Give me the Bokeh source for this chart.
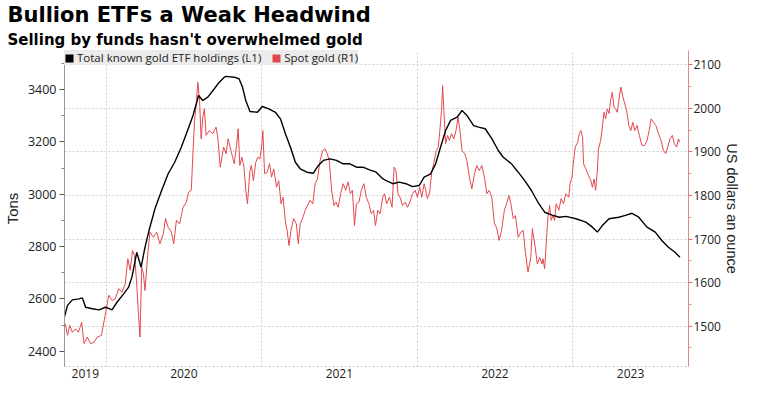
from bokeh.plotting import figure
from bokeh.models import Range1d, LinearAxis, FixedTicker, Legend, LegendItem, Title
from bokeh.embed import file_html
from bokeh.resources import INLINE

# ---------------- data ----------------
etf_year = [
    2019.732, 2019.752, 2019.783, 2019.826, 2019.847, 2019.868, 2019.911, 2019.954, 2019.996, 2020.025,
    2020.038, 2020.070, 2020.113, 2020.145, 2020.166, 2020.183, 2020.197, 2020.225, 2020.250, 2020.276,
    2020.314, 2020.357, 2020.399, 2020.441, 2020.484, 2020.516, 2020.559, 2020.586, 2020.594, 2020.622,
    2020.654, 2020.696, 2020.728, 2020.760, 2020.771, 2020.824, 2020.855, 2020.877, 2020.898, 2020.925,
    2020.973, 2021.004, 2021.046, 2021.089, 2021.121, 2021.153, 2021.185, 2021.217, 2021.248, 2021.291,
    2021.333, 2021.365, 2021.397, 2021.439, 2021.482, 2021.524, 2021.567, 2021.610, 2021.652, 2021.694,
    2021.737, 2021.779, 2021.801, 2021.843, 2021.885, 2021.928, 2021.970, 2022.013, 2022.045, 2022.087,
    2022.119, 2022.151, 2022.183, 2022.215, 2022.257, 2022.289, 2022.320, 2022.363, 2022.395, 2022.438,
    2022.480, 2022.522, 2022.554, 2022.607, 2022.650, 2022.692, 2022.734, 2022.777, 2022.820, 2022.873,
    2022.915, 2022.957, 2023.021, 2023.085, 2023.127, 2023.159, 2023.191, 2023.234, 2023.297, 2023.339,
    2023.382, 2023.425, 2023.478, 2023.531, 2023.573, 2023.616, 2023.658, 2023.690,
]
etf_tons = [
    2530, 2575, 2596, 2600, 2604, 2568, 2562, 2558, 2568, 2562,
    2558, 2587, 2619, 2645, 2683, 2734, 2778, 2721, 2797, 2861,
    2944, 3014, 3078, 3122, 3180, 3231, 3301, 3358, 3377, 3358,
    3371, 3403, 3428, 3447, 3450, 3447, 3441, 3409, 3358, 3316,
    3313, 3335, 3326, 3313, 3288, 3231, 3180, 3122, 3097, 3084,
    3080, 3110, 3129, 3135, 3129, 3116, 3116, 3103, 3103, 3093,
    3084, 3059, 3052, 3040, 3046, 3040, 3029, 3033, 3065, 3078,
    3116, 3180, 3243, 3282, 3294, 3320, 3301, 3262, 3256, 3250,
    3212, 3167, 3141, 3116, 3084, 3052, 3015, 2969, 2931, 2919,
    2912, 2915, 2906, 2893, 2874, 2855, 2880, 2906, 2912, 2919,
    2927, 2912, 2874, 2855, 2823, 2797, 2778, 2759,
]

gold_year = [
    2019.737, 2019.752, 2019.766, 2019.783, 2019.804, 2019.822, 2019.843, 2019.858, 2019.879, 2019.900,
    2019.922, 2019.943, 2019.970, 2019.992, 2020.017, 2020.038, 2020.059, 2020.081, 2020.102, 2020.123,
    2020.140, 2020.155, 2020.170, 2020.183, 2020.197, 2020.208, 2020.218, 2020.229, 2020.240, 2020.250,
    2020.268, 2020.282, 2020.304, 2020.325, 2020.346, 2020.368, 2020.382, 2020.399, 2020.420, 2020.435,
    2020.452, 2020.473, 2020.495, 2020.516, 2020.531, 2020.548, 2020.559, 2020.569, 2020.580, 2020.590,
    2020.601, 2020.611, 2020.622, 2020.632, 2020.643, 2020.664, 2020.686, 2020.707, 2020.718, 2020.734,
    2020.756, 2020.771, 2020.785, 2020.803, 2020.824, 2020.839, 2020.849, 2020.860, 2020.873, 2020.887,
    2020.898, 2020.909, 2020.925, 2020.934, 2020.947, 2020.962, 2020.976, 2020.989, 2021.002, 2021.008,
    2021.019, 2021.036, 2021.051, 2021.064, 2021.078, 2021.096, 2021.110, 2021.125, 2021.138, 2021.153,
    2021.164, 2021.176, 2021.189, 2021.206, 2021.223, 2021.236, 2021.248, 2021.266, 2021.280, 2021.295,
    2021.312, 2021.329, 2021.344, 2021.359, 2021.376, 2021.393, 2021.408, 2021.422, 2021.435, 2021.450,
    2021.465, 2021.478, 2021.492, 2021.508, 2021.524, 2021.541, 2021.556, 2021.571, 2021.584, 2021.597,
    2021.610, 2021.626, 2021.641, 2021.658, 2021.673, 2021.690, 2021.705, 2021.720, 2021.732, 2021.747,
    2021.762, 2021.779, 2021.790, 2021.804, 2021.822, 2021.839, 2021.852, 2021.864, 2021.877, 2021.890,
    2021.906, 2021.924, 2021.938, 2021.954, 2021.970, 2021.987, 2022.002, 2022.017, 2022.030, 2022.045,
    2022.055, 2022.066, 2022.081, 2022.094, 2022.108, 2022.123, 2022.136, 2022.146, 2022.157, 2022.164,
    2022.172, 2022.183, 2022.196, 2022.208, 2022.221, 2022.236, 2022.250, 2022.263, 2022.274, 2022.289,
    2022.306, 2022.320, 2022.336, 2022.352, 2022.369, 2022.384, 2022.399, 2022.416, 2022.433, 2022.448,
    2022.463, 2022.480, 2022.497, 2022.511, 2022.527, 2022.543, 2022.561, 2022.575, 2022.590, 2022.603,
    2022.618, 2022.632, 2022.650, 2022.667, 2022.682, 2022.696, 2022.713, 2022.731, 2022.741, 2022.756,
    2022.773, 2022.788, 2022.803, 2022.809, 2022.820, 2022.830, 2022.841, 2022.852, 2022.862, 2022.873,
    2022.884, 2022.894, 2022.911, 2022.926, 2022.941, 2022.957, 2022.975, 2022.983, 2022.996, 2023.004,
    2023.017, 2023.032, 2023.043, 2023.053, 2023.064, 2023.070, 2023.085, 2023.102, 2023.117, 2023.127,
    2023.138, 2023.148, 2023.159, 2023.166, 2023.180, 2023.191, 2023.202, 2023.212, 2023.223, 2023.234,
    2023.244, 2023.255, 2023.266, 2023.276, 2023.287, 2023.297, 2023.310, 2023.323, 2023.336, 2023.349,
    2023.361, 2023.374, 2023.387, 2023.400, 2023.414, 2023.429, 2023.446, 2023.463, 2023.478, 2023.492,
    2023.505, 2023.520, 2023.535, 2023.552, 2023.569, 2023.584, 2023.599, 2023.611, 2023.626, 2023.641,
    2023.654, 2023.669, 2023.680, 2023.690,
]
gold_usd = [
    1506, 1479, 1502, 1486, 1494, 1486, 1509, 1460, 1475, 1460,
    1463, 1475, 1479, 1521, 1571, 1559, 1563, 1586, 1578, 1597,
    1655, 1628, 1674, 1662, 1597, 1529, 1475, 1635, 1620, 1582,
    1666, 1716, 1704, 1716, 1689, 1712, 1747, 1727, 1716, 1689,
    1743, 1735, 1773, 1785, 1808, 1812, 1903, 1972, 2010, 2060,
    2018, 1930, 1980, 1999, 1938, 1949, 1942, 1957, 1934, 1865,
    1911, 1896, 1930, 1903, 1873, 1915, 1953, 1869, 1888, 1865,
    1812, 1781, 1857, 1869, 1834, 1876, 1888, 1884, 1919, 1949,
    1850, 1853, 1873, 1842, 1861, 1819, 1834, 1781, 1796, 1739,
    1720, 1685, 1720, 1747, 1735, 1689, 1735, 1750, 1766, 1777,
    1789, 1781, 1827, 1838, 1880, 1903, 1907, 1896, 1880, 1812,
    1777, 1785, 1773, 1804, 1827, 1812, 1831, 1804, 1812, 1731,
    1781, 1785, 1812, 1827, 1796, 1781, 1758, 1766, 1731, 1766,
    1758, 1796, 1804, 1781, 1796, 1773, 1865, 1857, 1804, 1796,
    1777, 1785, 1773, 1785, 1804, 1812, 1796, 1819, 1796, 1827,
    1812, 1793, 1808, 1854, 1876, 1903, 1911, 1949, 1995, 2052,
    1995, 1919, 1938, 1926, 1942, 1930, 1949, 1980, 1953, 1903,
    1896, 1880, 1842, 1815, 1850, 1869, 1857, 1869, 1842, 1804,
    1812, 1796, 1735, 1727, 1697, 1720, 1766, 1781, 1800, 1781,
    1747, 1754, 1704, 1716, 1720, 1670, 1624, 1658, 1724, 1689,
    1643, 1658, 1643, 1655, 1632, 1689, 1750, 1777, 1743, 1754,
    1743, 1781, 1766, 1793, 1781, 1804, 1796, 1827, 1842, 1873,
    1911, 1922, 1942, 1949, 1934, 1873, 1861, 1846, 1834, 1819,
    1838, 1812, 1857, 1907, 1926, 1957, 1991, 1976, 1999, 1988,
    2018, 2037, 2003, 1999, 1991, 2018, 2049, 2026, 2010, 1991,
    1961, 1949, 1968, 1949, 1961, 1938, 1915, 1915, 1926, 1949,
    1976, 1968, 1961, 1942, 1926, 1903, 1896, 1911, 1930, 1938,
    1919, 1911, 1930, 1922,
]

years = [2019, 2020, 2021, 2022, 2023]
tons_ticks = [2400, 2600, 2800, 3000, 3200, 3400]
tons_minor = [2500, 2700, 2900, 3100, 3300, 3500]
usd_ticks = [1500, 1600, 1700, 1800, 1900, 2000, 2100]
usd_minor = [1450, 1550, 1650, 1750, 1850, 1950, 2050]

title_text = "Bullion ETFs a Weak Headwind"
subtitle_text = "Selling by funds hasn't overwhelmed gold"
etf_label = "Total known gold ETF holdings (L1)"
gold_label = "Spot gold (R1)"

# ---------------- figure ----------------
x_start, x_end = 2019.7325, 2023.745
tons_lo, tons_hi = 2341.5, 3549
usd_lo, usd_hi = 1407.5, 2132.8

TICK_FONT = "Open Sans"
LABEL_FONT = "Liberation Sans"
RED = "#e5484d"
NAN = float("nan")

p = figure(width=742, height=387, output_backend="svg", toolbar_location=None,
           x_range=Range1d(x_start, x_end), y_range=Range1d(tons_lo, tons_hi),
           min_border_left=62, min_border_right=44, min_border_top=50, min_border_bottom=21,
           title=None)
p.outline_line_color = None
p.background_fill_color = "white"
p.border_fill_color = "white"

p.extra_y_ranges = {"usd": Range1d(usd_lo, usd_hi)}

# x axis: year labels centred on the visible part of each year
label_pos = [round((max(y, x_start) + min(y + 1, x_end)) / 2, 4) for y in years]
xa = p.xaxis[0]
xa.ticker = FixedTicker(ticks=label_pos)
xa.major_label_overrides = {pos: str(y) for pos, y in zip(label_pos, years)}
xa.major_tick_line_color = None
xa.minor_tick_line_color = None
xa.major_tick_in = 0
xa.major_tick_out = 0
xa.minor_tick_in = 0
xa.minor_tick_out = 0
xa.axis_line_color = "#c8c8c8"
xa.axis_line_dash = "2 2"
xa.major_label_text_font = TICK_FONT
xa.major_label_text_font_size = "12px"
xa.major_label_text_color = "#222222"
xa.major_label_standoff = 2

# left axis (tons)
ya = p.yaxis[0]
ya.ticker = FixedTicker(ticks=tons_ticks, minor_ticks=tons_minor)
ya.axis_label = "Tons"
ya.axis_label_text_font = LABEL_FONT
ya.axis_label_text_font_size = "15px"
ya.axis_label_text_font_style = "normal"
ya.axis_label_text_color = "#222222"
ya.axis_label_standoff = 4
ya.axis_line_color = "#9a9a9a"
ya.major_tick_line_color = "#555555"
ya.minor_tick_line_color = "#888888"
ya.major_tick_in = 0
ya.major_tick_out = 5
ya.minor_tick_in = 0
ya.minor_tick_out = 3
ya.major_label_text_font = TICK_FONT
ya.major_label_text_font_size = "12.5px"
ya.major_label_text_color = "#222222"
ya.major_label_standoff = 3

# right axis (USD)
ra = LinearAxis(y_range_name="usd",
                ticker=FixedTicker(ticks=usd_ticks, minor_ticks=usd_minor))
ra.axis_label = "US dollars an ounce"
ra.axis_label_text_font = LABEL_FONT
ra.axis_label_text_font_size = "14.5px"
ra.axis_label_text_font_style = "normal"
ra.axis_label_text_color = "#222222"
ra.axis_label_standoff = 0
ra.axis_line_color = "#e08a8a"
ra.major_tick_line_color = "#d96c6c"
ra.minor_tick_line_color = "#e08a8a"
ra.major_tick_in = 0
ra.major_tick_out = 4
ra.minor_tick_in = 0
ra.minor_tick_out = 3
ra.major_label_text_font = TICK_FONT
ra.major_label_text_font_size = "12px"
ra.major_label_text_color = "#222222"
ra.major_label_standoff = 1
p.add_layout(ra, "right")

# grids
p.xgrid.ticker = FixedTicker(ticks=[y for y in years if x_start < y < x_end])
p.xgrid.grid_line_color = "#cfcfcf"
p.xgrid.grid_line_dash = "2 2"
p.ygrid.y_range_name = "usd"
p.ygrid.ticker = FixedTicker(ticks=usd_ticks)
p.ygrid.grid_line_color = "#cfcfcf"
p.ygrid.grid_line_dash = "2 2"

# series
p.line(gold_year, gold_usd, line_color=RED, line_width=1.0, y_range_name="usd")
p.line(etf_year, etf_tons, line_color="black", line_width=1.4)

# legend swatches (square keys; no visible marks in the plot)
sq_black = p.quad(left=[NAN], right=[NAN], top=[NAN], bottom=[NAN],
                  fill_color="black", line_color=None)
sq_red = p.quad(left=[NAN], right=[NAN], top=[NAN], bottom=[NAN],
                fill_color="#e0474c", line_color=None)
legend = Legend(items=[LegendItem(label=etf_label, renderers=[sq_black]),
                       LegendItem(label=gold_label, renderers=[sq_red])],
                location="top_left", orientation="horizontal", margin=0, padding=6,
                spacing=10, glyph_width=10, glyph_height=10, label_standoff=3,
                label_height=14, label_text_font=TICK_FONT,
                label_text_font_size="11.5px", label_text_color="#222222",
                background_fill_color="#ebebeb", background_fill_alpha=1.0,
                border_line_color=None)
p.add_layout(legend)

# titles (subtitle first so it sits next to the plot)
p.add_layout(Title(text=subtitle_text, text_font="DejaVu Sans", text_font_size="15px",
                   text_font_style="bold", text_color="black", offset=-57, standoff=4), "above")
p.add_layout(Title(text=title_text, text_font="DejaVu Sans", text_font_size="21px",
                   text_font_style="bold", text_color="black", offset=-57, standoff=0), "above")

open("out.html", "w").write(file_html(p, INLINE))
